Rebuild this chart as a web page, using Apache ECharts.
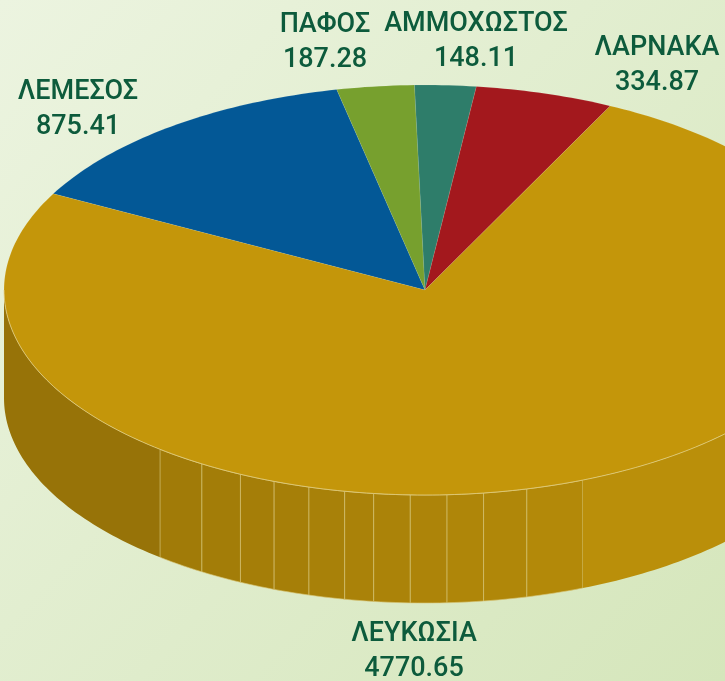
<!DOCTYPE html>
<html>
<head>
<meta charset="utf-8">
<title>3D pie</title>
<script src="https://cdn.jsdelivr.net/npm/echarts@6/dist/echarts.min.js"></script>
<style>
  html, body { margin: 0; padding: 0; }
  #main { width: 725px; height: 681px; }
</style>
</head>
<body>
<div id="main"></div>
<script>
// regions, clockwise from the upper left
const regions = ["ΛΕΜΕΣΟΣ", "ΠΑΦΟΣ", "ΑΜΜΟΧΩΣΤΟΣ", "ΛΑΡΝΑΚΑ", "ΛΕΥΚΩΣΙΑ"];
const values = [875.41, 187.28, 148.11, 334.87, 4770.65];
const colors = ["#035896", "#77a02e", "#2e7d6a", "#a3181d", "#c4960a"];

// layout of the tilted disc (pixels)
const cx = 425, cy = 290, rx = 421, ry = 205, depth = 108;
const startAngle = 152; // degrees, math convention, slices go clockwise
// facet edges of the side wall (degrees, lower half)
const wallBreaks = [180, 231, 238, 244, 249, 254, 259, 263, 268, 273, 278, 284, 292, 360];
// where each two-line label sits
const labelSpots = [[78, 110], [325, 43], [476, 42], [657, 66], [414, 652]];

const total = values.reduce((a, b) => a + b, 0);
const rad = (d) => (d * Math.PI) / 180;
const pt = (t, dy) => [cx + rx * Math.cos(rad(t)), cy - ry * Math.sin(rad(t)) + (dy || 0)];

function arc(a, b, dy) {
  // points from angle a to angle b (either direction)
  const n = Math.max(2, Math.ceil(Math.abs(b - a)));
  const pts = [];
  for (let k = 0; k <= n; k++) pts.push(pt(a + ((b - a) * k) / n, dy));
  return pts;
}

function shade(hex, f) {
  const c = [1, 3, 5].map((p) => parseInt(hex.slice(p, p + 2), 16));
  return "rgb(" + c.map((v) => Math.round(v * f)).join(",") + ")";
}

function renderItem(params, api) {
  const i = params.dataIndex;
  let before = 0;
  for (let k = 0; k < i; k++) before += values[k];
  const a0 = startAngle - (before / total) * 360;
  const a1 = a0 - (api.value(0) / total) * 360;
  const children = [];

  // front side wall, only the part facing the viewer
  for (const shift of [0, -360]) {
    for (let w = 0; w < wallBreaks.length - 1; w++) {
      const lo = Math.max(a1, wallBreaks[w] + shift);
      const hi = Math.min(a0, wallBreaks[w + 1] + shift);
      if (hi <= lo) continue;
      const mid = (lo + hi) / 2 - shift;
      const f = Math.min(1, Math.max(0, (mid - 200) / 110));
      const top = arc(lo, hi, 0);
      const bottom = arc(hi, lo, depth);
      children.push({
        type: "polygon",
        z2: 1,
        shape: { points: top.concat(bottom) },
        style: {
          fill: shade(colors[i], 0.76 + 0.19 * f),
          stroke: w > 0 && w < wallBreaks.length - 2 ? "rgba(214,196,120,0.8)" : null,
          lineWidth: 0.8,
        },
      });
    }
    const lo = Math.max(a1, 180 + shift);
    const hi = Math.min(a0, 360 + shift);
    if (hi > lo) {
      children.push({
        type: "polyline",
        z2: 12,
        shape: { points: arc(lo, hi, 0) },
        style: { stroke: "rgba(226,206,130,0.7)", lineWidth: 1, fill: null },
      });
    }
  }

  // top face
  children.push({
    type: "polygon",
    z2: 10,
    shape: { points: [[cx, cy]].concat(arc(a0, a1, 0)) },
    style: { fill: colors[i], stroke: "rgba(255,255,255,0.15)", lineWidth: 0.6 },
  });

  // label
  children.push({
    type: "text",
    z2: 20,
    x: labelSpots[i][0],
    y: labelSpots[i][1],
    style: {
      text: regions[i] + "\n" + api.value(0).toFixed(2),
      fill: "#0d5b3c",
      font: "500 27px Roboto",
      lineHeight: 35,
      align: "center",
      verticalAlign: "middle",
    },
  });

  return { type: "group", children: children };
}

const chart = echarts.init(document.getElementById("main"));
chart.setOption({
  animation: false,
  backgroundColor: {
    type: "linear",
    x: 0, y: 0, x2: 1, y2: 1,
    colorStops: [
      { offset: 0, color: "#ecf4e0" },
      { offset: 1, color: "#d5e6bb" },
    ],
  },
  series: [
    {
      type: "custom",
      coordinateSystem: "none",
      renderItem: renderItem,
      data: values.map((v, i) => ({ name: regions[i], value: [v] })),
    },
  ],
});
</script>
</body>
</html>
